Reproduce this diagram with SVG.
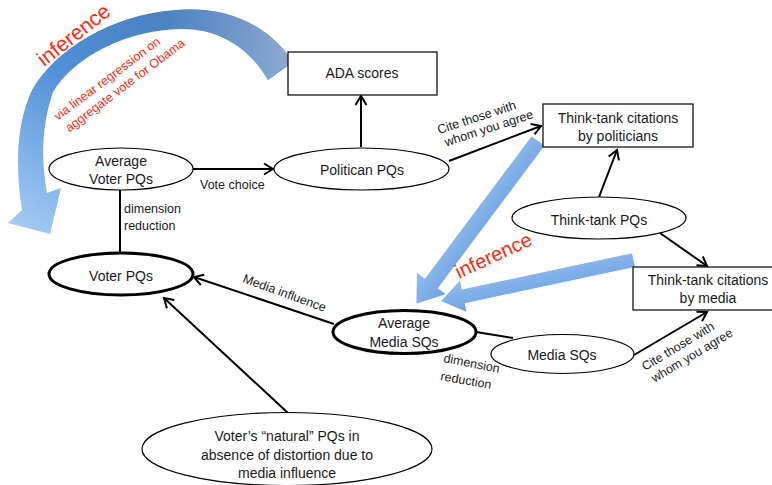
<svg xmlns="http://www.w3.org/2000/svg" width="772" height="485" viewBox="0 0 772 485">
<style>
.node{fill:#fff;stroke:#000;stroke-width:1.2}
.thick{fill:#fff;stroke:#000;stroke-width:3}
.t{font-family:"Liberation Sans",Arial,sans-serif;font-size:14px;fill:#1a1a1a;text-anchor:middle}
.lbl{font-family:"Liberation Sans",Arial,sans-serif;font-size:12.5px;fill:#1a1a1a}
.red{font-family:"Liberation Sans",Arial,sans-serif;fill:#ff2a10}
.con{fill:none;stroke:#000;stroke-width:2}
</style>
<defs>
<marker id="ah" markerUnits="userSpaceOnUse" markerWidth="14" markerHeight="14" viewBox="-11 -7 13 14" refX="0" refY="0" orient="auto">
<path d="M-9,-5.5 L0,0 L-9,5.5" fill="none" stroke="#000" stroke-width="2"/>
</marker>
<linearGradient id="curve" x1="0.8" y1="0" x2="0" y2="1">
<stop offset="0" stop-color="#4a7dba"/>
<stop offset="0.45" stop-color="#4f8ed6"/>
<stop offset="1" stop-color="#a9cff7"/>
</linearGradient>
<linearGradient id="tail" x1="0" y1="0" x2="1" y2="0">
<stop offset="0.55" stop-color="#8eabd3" stop-opacity="0"/>
<stop offset="1" stop-color="#8eabd3" stop-opacity="1"/>
</linearGradient>
<linearGradient id="straight" x1="0" y1="0" x2="0" y2="1">
<stop offset="0" stop-color="#6ea3e2"/>
<stop offset="1" stop-color="#92bcef"/>
</linearGradient>
<path id="curvePath" d="M293,62 C265,20 220,6 175,10 C110,15 55,50 32,90 C18,120 14,160 22,210 L8,223 L50,234 L61,188 L47,193 C42,165 40,130 53,92 C75,55 130,30 180,29 C215,28 248,45 268,80 Z"/>
</defs>

<!-- curved inference arrow -->
<g id="inference-curve">
<use href="#curvePath" fill="url(#curve)"/>
<use href="#curvePath" fill="url(#tail)"/>
<text class="red" font-size="21" transform="translate(44,67) rotate(-38)">inference</text>
<g class="red" font-size="12.5" transform="translate(58,121) rotate(-37)">
<text x="0" y="0">via linear regression on</text>
<text x="2" y="16">aggregate vote for Obama</text>
</g>
</g>

<!-- connectors -->
<g id="connectors">
<line class="con" x1="192" y1="169" x2="273" y2="169" marker-end="url(#ah)"/>
<line class="con" x1="361" y1="147" x2="361" y2="96" marker-end="url(#ah)"/>
<line class="con" x1="449" y1="161" x2="541" y2="126" marker-end="url(#ah)"/>
<line class="con" x1="599" y1="197" x2="617" y2="150" marker-end="url(#ah)"/>
<line class="con" x1="660" y1="233" x2="707" y2="266" marker-end="url(#ah)"/>
<line class="con" x1="120" y1="190" x2="120" y2="253"/>
<line class="con" x1="334" y1="324" x2="194" y2="277" marker-end="url(#ah)"/>
<line class="con" x1="288" y1="413" x2="164" y2="298" marker-end="url(#ah)"/>
<line class="con" x1="476" y1="332" x2="513" y2="338"/>
<line class="con" x1="634" y1="355" x2="707" y2="312" marker-end="url(#ah)"/>
<text class="lbl" x="200" y="189">Vote choice</text>
<text class="lbl" x="124" y="213">dimension</text>
<text class="lbl" x="124" y="230">reduction</text>
<g class="lbl" font-size="12.5" transform="translate(439,134) rotate(-18)">
<text x="0" y="0">Cite those with</text>
<text x="3" y="14">whom you agree</text>
</g>
<text class="lbl" font-size="12" transform="translate(242,282) rotate(20)">Media influence</text>
<text class="lbl" transform="translate(443,362) rotate(11)">dimension</text>
<text class="lbl" transform="translate(440,380) rotate(10)">reduction</text>
<g class="lbl" transform="translate(645,371) rotate(-31)">
<text x="0" y="0">Cite those with</text>
<text x="2" y="15">whom you agree</text>
</g>
</g>

<!-- straight inference arrows -->
<g id="inference-arrows">
<polygon transform="translate(538,141) rotate(126.8)" points="0,-8 178,-8 178,-18 203,0 178,18 178,8 0,8" fill="url(#straight)"/>
<polygon transform="translate(634,260) rotate(168)" points="0,-7.5 174,-7.5 174,-17 198,0 174,17 174,7.5 0,7.5" fill="url(#straight)" stroke="#fff" stroke-width="1"/>
<text class="red" font-size="20" transform="translate(459,279) rotate(-25)">inference</text>
</g>

<g id="ada">
<rect class="node" x="288" y="52" width="149" height="43"/>
<text class="t" x="362" y="78">ADA scores</text>
</g>
<g id="avg-voter">
<ellipse class="node" cx="121" cy="169" rx="72" ry="21"/>
<text class="t" x="121" y="166">Average</text>
<text class="t" x="121" y="184">Voter PQs</text>
</g>
<g id="politician">
<ellipse class="node" cx="361.5" cy="169" rx="87.5" ry="21"/>
<text class="t" x="362" y="175">Politican PQs</text>
</g>
<g id="tt-politicians">
<rect class="node" x="543" y="104" width="150" height="43"/>
<text class="t" x="618" y="123">Think-tank citations</text>
<text class="t" x="618" y="141">by politicians</text>
</g>
<g id="tt-pqs">
<ellipse class="node" cx="599" cy="218" rx="87" ry="21"/>
<text class="t" x="599" y="225">Think-tank PQs</text>
</g>
<g id="tt-media">
<rect class="node" x="633" y="267" width="150" height="43"/>
<text class="t" x="708" y="285">Think-tank citations</text>
<text class="t" x="708" y="303">by media</text>
</g>
<g id="voter">
<ellipse class="thick" cx="121" cy="274" rx="72" ry="21"/>
<text class="t" x="121" y="281">Voter PQs</text>
</g>
<g id="avg-media">
<ellipse class="thick" cx="404.5" cy="332" rx="71.5" ry="21.5"/>
<text class="t" x="404" y="328">Average</text>
<text class="t" x="404" y="347">Media SQs</text>
</g>
<g id="media">
<ellipse class="node" cx="562.5" cy="354" rx="71.5" ry="19.5"/>
<text class="t" x="562" y="360">Media SQs</text>
</g>
<g id="natural">
<ellipse class="node" cx="287" cy="449" rx="145" ry="36.5"/>
<text class="t" font-size="14.5" x="287" y="441">Voter’s “natural” PQs in</text>
<text class="t" font-size="14.5" x="287" y="460">absence of distortion due to</text>
<text class="t" font-size="14.5" x="287" y="478">media influence</text>
</g>
</svg>
